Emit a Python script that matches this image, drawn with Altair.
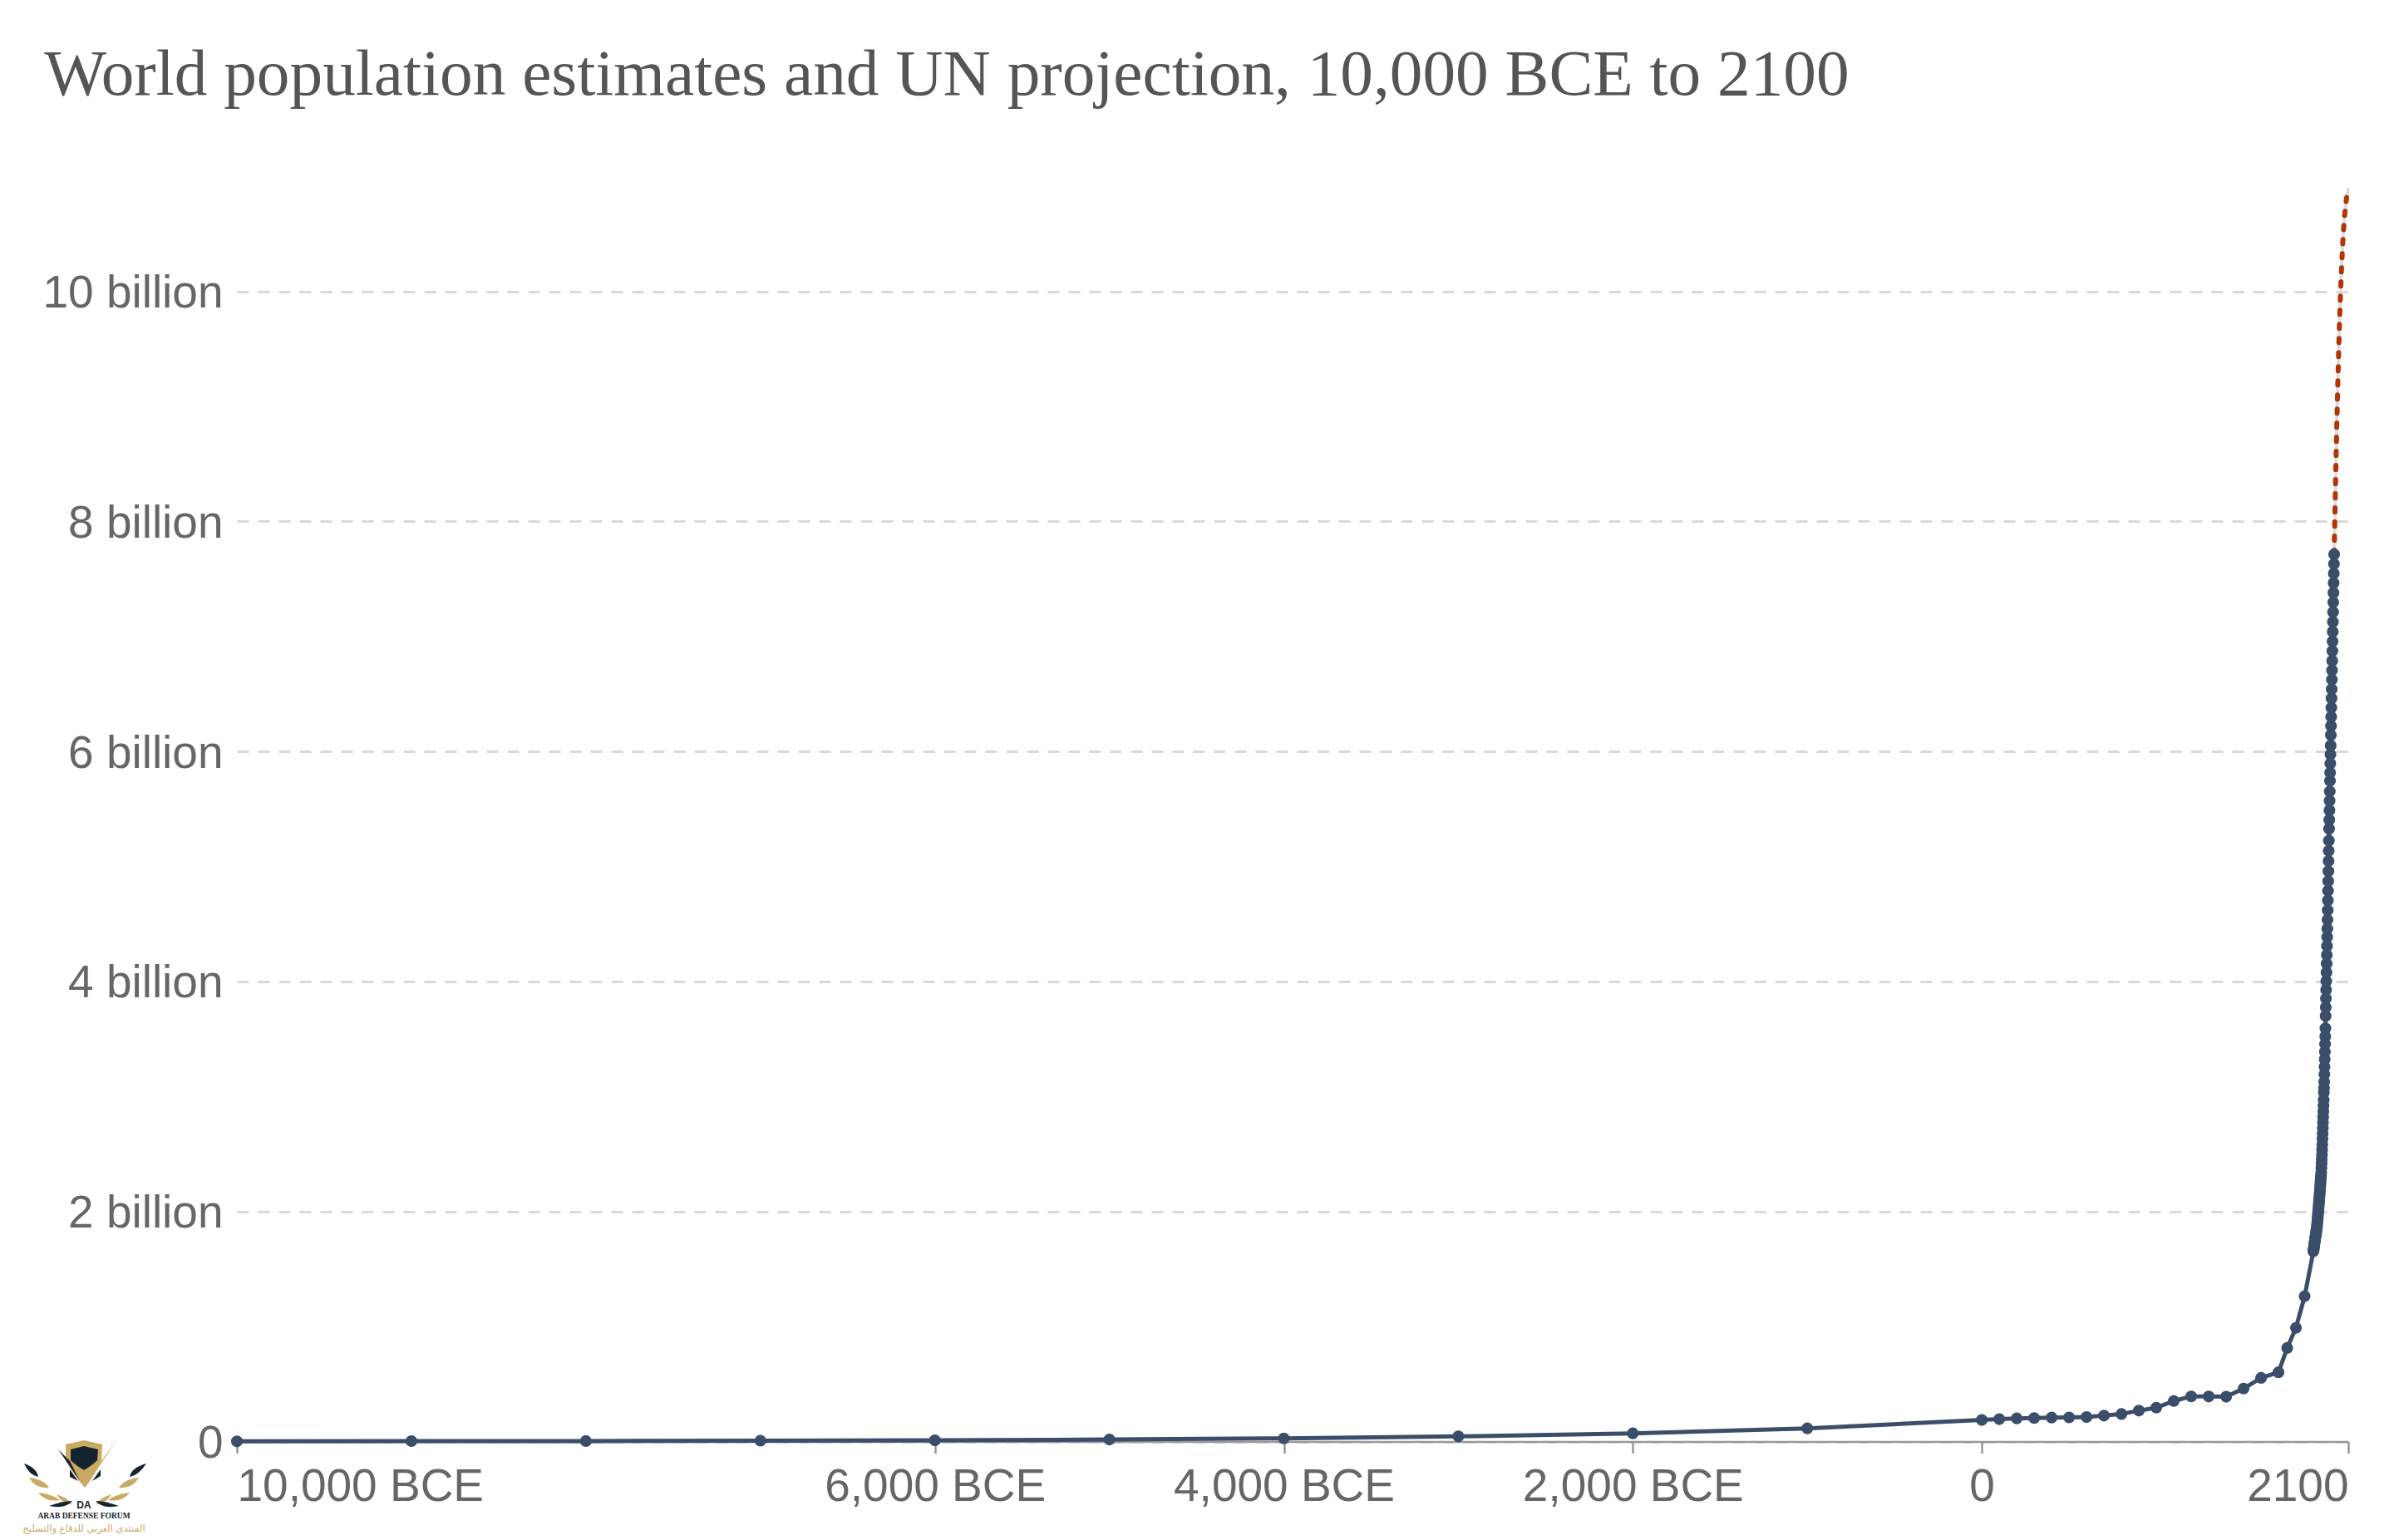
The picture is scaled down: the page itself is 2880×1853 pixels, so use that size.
import altair as alt
import pandas as pd

years_early = [-10000,-9000,-8000,-7000,-6000,-5000,-4000,-3000,-2000,-1000,
               0,100,200,300,400,500,600,700,800,900,1000,1100,1200,1300,1400,1500,1600,1700,1750,1800,1850]
pop_early = [0.002,0.004,0.005,0.008,0.011,0.018,0.028,0.045,0.072,0.115,
             0.188,0.195,0.202,0.205,0.209,0.210,0.213,0.226,0.240,0.269,0.295,0.353,0.393,0.392,0.390,0.461,0.554,0.603,0.814,0.989,1.263]
pop_1900 = [1.654,1.665,1.676,1.687,1.698,1.709,1.720,1.730,1.741,1.752,
            1.763,1.772,1.782,1.791,1.800,1.810,1.820,1.830,1.841,1.851,
            1.862,1.879,1.897,1.914,1.931,1.949,1.967,1.985,2.003,2.021,
            2.039,2.058,2.077,2.096,2.115,2.134,2.154,2.174,2.194,2.214,
            2.234,2.255,2.276,2.297,2.318,2.339,2.377,2.415,2.453,2.491]
pop_1950 = [2.536,2.584,2.631,2.678,2.725,2.773,2.821,2.870,2.920,2.971,
            3.034,3.075,3.128,3.193,3.258,3.323,3.390,3.456,3.523,3.593,
            3.700,3.775,3.851,3.927,4.002,4.079,4.155,4.231,4.308,4.386,
            4.458,4.537,4.620,4.704,4.789,4.873,4.959,5.047,5.136,5.225,
            5.327,5.406,5.489,5.571,5.652,5.744,5.815,5.895,5.974,6.052,
            6.143,6.222,6.301,6.381,6.461,6.542,6.624,6.706,6.789,6.873,
            6.957,7.041,7.126,7.211,7.296,7.380,7.464,7.548,7.631,7.713]
years_proj = [2019,2025,2030,2035,2040,2045,2050,2055,2060,2065,2070,2075,2080,2085,2090,2095,2100]
pop_proj = [7.713,8.18,8.55,8.89,9.20,9.48,9.74,9.96,10.15,10.32,10.47,10.58,10.67,10.75,10.81,10.85,10.9]

x_ticks = [-10000,-6000,-4000,-2000,0,2100]
y_ticks = [0,2,4,6,8,10]

hist = pd.DataFrame({
    "year": years_early + list(range(1900,1950)) + list(range(1950,2020)),
    "pop": pop_early + pop_1900 + pop_1950,
})
proj = pd.DataFrame({"year": years_proj, "pop": pop_proj})

NAVY = "#3a4e69"
RUST = "#b13507"
GOLD = "#c9a964"
DARK = "#14242e"

xs = alt.Scale(domain=[-10000,2100], nice=False, zero=False)
ys = alt.Scale(domain=[0,10.9], nice=False, zero=True)

x_axis = alt.Axis(values=x_ticks, title=None, grid=False, labelFlush=True, labelOverlap=False, labelLimit=600,
                  labelExpr="datum.value < 0 ? format(-datum.value, ',') + ' BCE' : datum.value + ''",
                  labelFont="Liberation Sans", labelFontSize=55, labelColor="#666666", labelPadding=14,
                  domainColor="#999999", domainWidth=2.5, tickColor="#999999", tickWidth=2.5, tickSize=14)
y_axis = alt.Axis(values=y_ticks, title=None, domain=False, ticks=False, labelPadding=17, labelLimit=600,
                  labelOffset=2,
                  labelExpr="datum.value == 0 ? '0' : datum.value + ' billion'",
                  labelFont="Liberation Sans", labelFontSize=55, labelColor="#666666",
                  grid=True, gridColor="#d9d9d9", gridWidth=3, gridDash=[14,11])

base = alt.Chart(hist).encode(x=alt.X("year:Q", scale=xs, axis=x_axis),
                              y=alt.Y("pop:Q", scale=ys, axis=y_axis))
line = base.mark_line(color=NAVY, strokeWidth=5, clip=False)
pts = base.mark_circle(color=NAVY, size=200, opacity=1, clip=False)

pbase = alt.Chart(proj).encode(x=alt.X("year:Q", scale=xs), y=alt.Y("pop:Q", scale=ys))
pgray = pbase.mark_line(color="#dddddd", strokeWidth=4, clip=False)
pred = pbase.mark_line(color=RUST, strokeWidth=6, strokeCap="round", strokeDash=[5,12], clip=False)

# Watermark logo
LX, LY = -184, 1534
def shape(path, color):
    return alt.Chart(pd.DataFrame({"a":[0]})).mark_point(shape=path, size=4, filled=True, color=color, opacity=1, strokeWidth=0, clip=False).encode(
        x=alt.value(LX), y=alt.value(LY))
def txt(t, size, color, dy, font, weight="normal"):
    return alt.Chart(pd.DataFrame({"t":[t]})).mark_text(fontSize=size, color=color, font=font, fontWeight=weight, align="center", baseline="middle", clip=False).encode(
        text="t:N", x=alt.value(LX), y=alt.value(LY+dy))

gold_paths = ["M0,-27 L22,-22 L21,-3 Q14,14 1,30 Q-13,14 -22,-3 L-22,-22 Z",
              "M1,30 L40,-28 L12,10 Z",
              "M66,18 Q48,20 42,30 Q58,32 66,18 Z", "M-66,18 Q-48,20 -42,30 Q-58,32 -66,18 Z",
              "M55,36 Q38,38 29,45 Q46,48 55,36 Z", "M-55,36 Q-38,38 -29,45 Q-46,48 -55,36 Z",
              "M33,38 Q20,42 14,50 Q26,50 33,38 Z", "M-33,38 Q-20,42 -14,50 Q-26,50 -33,38 Z"]
dark_paths = ["M0,-20 L17,-16 L16,-3 Q10,3 0,9 Q-10,3 -16,-3 L-16,-16 Z",
              "M-31,-16 L-5,22 L-17,-2 Z",
              "M-17,8 L-17,17 L-7,22 Z", "M20,8 L20,16 L10,22 Z",
              "M75,1 Q57,6 55,17 Q66,15 75,1 Z", "M-72,1 Q-57,6 -55,17 Q-66,15 -72,1 Z",
              "M42,52 Q26,46 14,46 Q22,56 42,52 Z", "M-42,52 Q-26,46 -14,46 Q-22,56 -42,52 Z"]
logo = [shape(p, GOLD) for p in gold_paths] + [shape(p, DARK) for p in dark_paths]
logo_txt = [txt("DA", 12, DARK, 51, "Liberation Sans", "bold"),
            txt("ARAB DEFENSE FORUM", 9.5, DARK, 64, "Liberation Serif", "bold"),
            txt("المنتدى العربي للدفاع والتسليح", 11.5, GOLD, 80, "DejaVu Sans")]

chart = alt.layer(pgray, pred, line, pts, *logo, *logo_txt).properties(
    width=2540, height=1508.6,
    autosize="none",
    padding={"left":277,"top":218,"right":30,"bottom":118},
    background="white",
    title=alt.TitleParams("World population estimates and UN projection, 10,000 BCE to 2100",
                          anchor="start", font="Liberation Serif", fontSize=79.3, fontWeight="normal",
                          color="#555555", dx=26, offset=84),
).configure_view(stroke=None)

chart.save("out.html", embed_options={"renderer": "svg", "actions": False})
